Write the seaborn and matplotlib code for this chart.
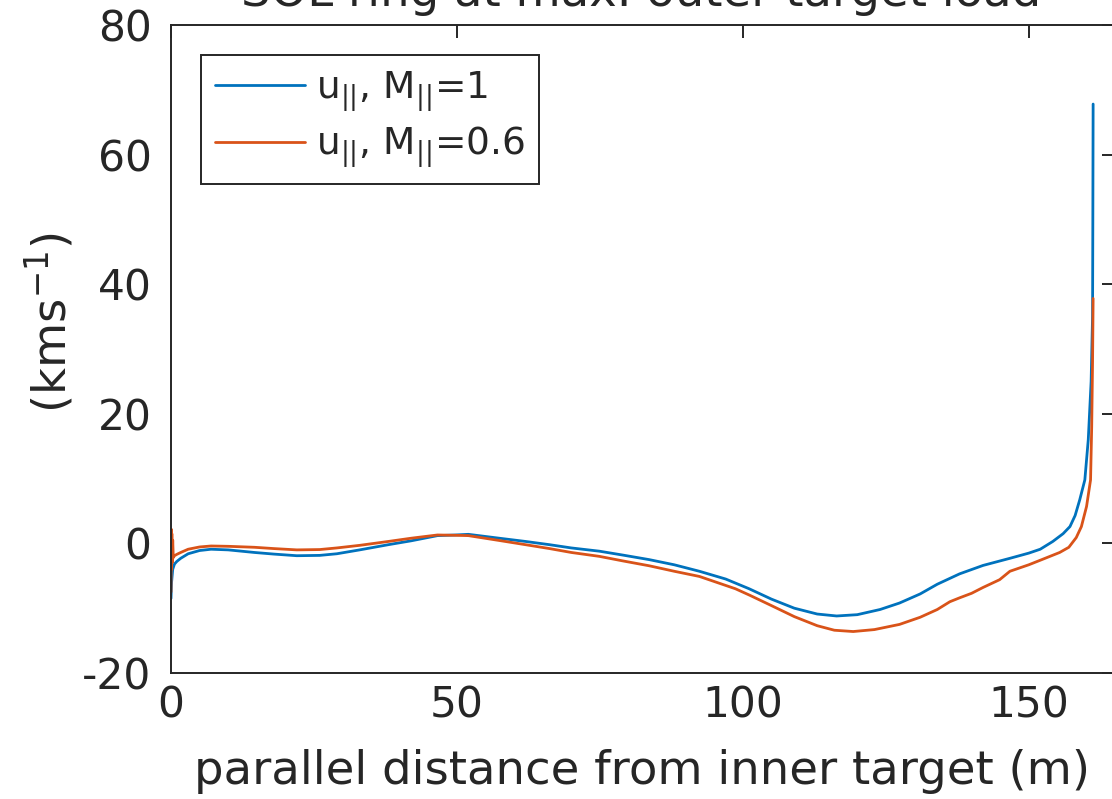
import numpy as np
import pandas as pd
import seaborn as sns
import matplotlib
matplotlib.use("Agg")
import matplotlib.pyplot as plt

# Parallel velocity along the SOL ring, two Mach-number boundary assumptions
x_m1 = [0, 0.1, 0.3, 0.6, 1, 1.7, 3, 5, 7, 10, 14.6, 18, 22, 26, 29, 33, 38, 42,
        46.6, 49.7, 52, 57.4, 62, 66.2, 70, 74.9, 79, 83.6, 88, 92.4, 97, 101.1,
        105, 109, 113, 116.4, 120, 124, 127.4, 131, 134, 137.9, 142, 146.7, 150,
        152, 154.2, 156, 157.2, 158.1, 158.9, 159.8, 160.4, 160.9, 161.15, 161.2,
        161.25]
u_m1 = [-8.5, -6.0, -4.0, -3.2, -2.8, -2.3, -1.6, -1.1, -0.9, -1.0, -1.4, -1.65,
        -1.9, -1.85, -1.6, -1.0, -0.2, 0.4, 1.2, 1.3, 1.4, 0.8, 0.3, -0.2, -0.7,
        -1.2, -1.8, -2.5, -3.3, -4.3, -5.5, -7.0, -8.6, -10.0, -10.9, -11.2,
        -11.0, -10.2, -9.2, -7.8, -6.3, -4.7, -3.4, -2.3, -1.5, -0.9, 0.3, 1.5,
        2.6, 4.3, 6.7, 9.8, 16.0, 25.0, 35.0, 50.0, 67.8]

x_m06 = [0, 0.05, 0.1, 0.15, 0.2, 0.3, 0.4, 0.6, 1, 1.7, 3, 5, 7, 10, 14.6, 18,
         22, 26, 29, 33, 38, 42, 46.6, 49.7, 52, 57.4, 62, 66.2, 70, 74.9, 79,
         83.6, 88, 92.4, 98.7, 101.2, 105, 109, 113, 116, 119.3, 123, 127.4, 131,
         134, 136.2, 137.9, 140, 142, 144.9, 146.7, 150, 152, 155.4, 157, 158.3,
         159.2, 160.1, 160.8, 161.0, 161.15, 161.25]
u_m06 = [-7.5, 2.2, -4.0, 1.5, -3.0, 0.5, -2.2, -1.9, -1.7, -1.4, -0.9, -0.55,
         -0.4, -0.45, -0.6, -0.8, -1.0, -0.95, -0.7, -0.3, 0.3, 0.8, 1.3, 1.25,
         1.2, 0.45, -0.2, -0.8, -1.4, -2.0, -2.7, -3.45, -4.3, -5.1, -7.0, -8.0,
         -9.6, -11.3, -12.7, -13.4, -13.6, -13.3, -12.5, -11.4, -10.2, -9.0,
         -8.4, -7.7, -6.8, -5.6, -4.3, -3.3, -2.6, -1.4, -0.6, 0.9, 2.6, 5.7,
         9.8, 18.0, 28.0, 37.8]

labels = [r"u$_{||}$, M$_{||}$=1", r"u$_{||}$, M$_{||}$=0.6"]
colors = ["#0072BD", "#D95319"]

df = pd.concat([
    pd.DataFrame({"s": x_m1, "u": u_m1, "case": labels[0]}),
    pd.DataFrame({"s": x_m06, "u": u_m06, "case": labels[1]}),
], ignore_index=True)

sns.set_theme(style="white")
plt.rcParams["font.family"] = ["DejaVu Sans"]
plt.rcParams["mathtext.fontset"] = "dejavusans"
plt.rcParams["axes.unicode_minus"] = False

ink = "#262626"
tick_fs = 30.5
label_fs = 33.5
fig = plt.figure(figsize=(11.12, 7.99), dpi=100)
ax = fig.add_axes([171 / 1112, 1 - 673 / 799, (1114 - 171) / 1112, (673 - 25) / 799])

sns.lineplot(data=df, x="s", y="u", hue="case", palette=colors, sort=False,
             estimator=None, linewidth=2.0, ax=ax)

ax.set_xlim(0, 164.9)
ax.set_ylim(-20, 80)
ax.set_xticks([0, 50, 100, 150])
ax.set_yticks([-20, 0, 20, 40, 60, 80])
ax.tick_params(direction="in", length=9, width=1.4, color=ink, labelcolor=ink,
               labelsize=tick_fs, top=True, right=True)
ax.tick_params(axis="y", pad=14)
ax.tick_params(axis="x", pad=8)
for sp in ax.spines.values():
    sp.set_color(ink)
    sp.set_linewidth(1.4)

ax.set_xlabel("parallel distance from inner target (m)", fontsize=label_fs, color=ink)
ax.xaxis.set_label_coords(0.5, -0.118)
ax.xaxis.label.set_va("top")
ax.set_ylabel(r"(kms$^{-1}$)", fontsize=label_fs, color=ink)
ax.yaxis.set_label_coords(-0.1, 0.54)

leg = ax.legend(loc="upper left", fontsize=27, frameon=True, fancybox=False,
                framealpha=1, edgecolor=ink, handlelength=2.4, handletextpad=0.29,
                borderaxespad=0.8, labelspacing=0.3, borderpad=0.38)
leg.get_frame().set_linewidth(1.4)
for t in leg.get_texts():
    t.set_color(ink)

fig.text(0.5764, 1 - 6 / 799, "SOL ring at max. outer target load", fontsize=label_fs,
         color=ink, ha="center", va="baseline")

fig.savefig("out.png", dpi=100)
